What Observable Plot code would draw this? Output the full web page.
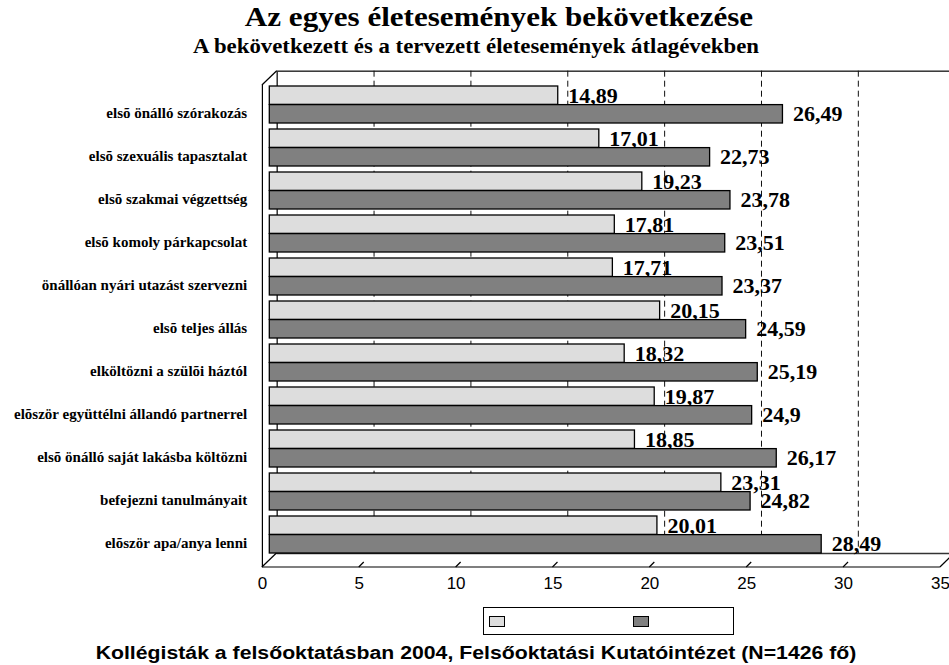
<!DOCTYPE html>
<html>
<head>
<meta charset="utf-8">
<script src="https://cdn.jsdelivr.net/npm/d3@7"></script>
<script src="https://cdn.jsdelivr.net/npm/@observablehq/plot@0.6"></script>
<style>
  body { margin: 0; background: #fff; }
  #wrap { position: relative; width: 949px; height: 665px; overflow: hidden; background: #fff; }
  #wrap svg { position: absolute; left: 0; top: 0; }
  .t { position: absolute; white-space: nowrap; line-height: 1; color: #000; transform-origin: center center; }
  .serif { font-family: "Liberation Serif", "Times New Roman", serif; font-weight: bold; }
  .sans { font-family: "Liberation Sans", Arial, sans-serif; font-weight: bold; }
  #legend { position: absolute; left: 483px; top: 607px; width: 249px; height: 26px; border: 1px solid #000; background: #fff; }
  .sw { position: absolute; top: 8px; width: 14px; height: 9px; border: 1px solid #000; }
</style>
</head>
<body>
<div id="wrap"></div>
<script>
// ---- data ----
const categories = [
  "elsõ önálló szórakozás",
  "elsõ szexuális tapasztalat",
  "elsõ szakmai végzettség",
  "elsõ komoly párkapcsolat",
  "önállóan nyári utazást szervezni",
  "elsõ teljes állás",
  "elköltözni a szülõi háztól",
  "elõször együttélni állandó partnerrel",
  "elsõ önálló saját lakásba költözni",
  "befejezni tanulmányait",
  "elõször apa/anya lenni"
];
const happened = [14.89, 17.01, 19.23, 17.81, 17.71, 20.15, 18.32, 19.87, 18.85, 23.31, 20.01];
const planned  = [26.49, 22.73, 23.78, 23.51, 23.37, 24.59, 25.19, 24.9, 26.17, 24.82, 28.49];
const xTicks = [0, 5, 10, 15, 20, 25, 30, 35];
const titleText = "Az egyes életesemények bekövetkezése";
const subtitleText = "A bekövetkezett és a tervezett életesemények átlagévekben";
const captionText = "Kollégisták a felsőoktatásban 2004, Felsőoktatási Kutatóintézet (N=1426 fő)";

// ---- layout ----
const W = 949, H = 600;
const T = 75.1, B = 563.3, pad = 0.15;
const n = categories.length;
const step = (B - T) / (n - pad + 2 * pad);
const bw = step * (1 - pad);
const half = 7.4;          // half depth, x
const serif = "Liberation Serif, Times New Roman, serif";
const sans = "Liberation Sans, Arial, sans-serif";

const rows = categories.map((c, i) => ({cat: c, done: happened[i], plan: planned[i]}));
const fmt = v => String(v).replace(".", ",");

const plot = Plot.plot({
  width: W, height: H,
  marginLeft: 269.3, marginRight: 1.7, marginTop: T, marginBottom: H - B,
  x: {domain: [0, 35], axis: null},
  y: {domain: categories, axis: null, padding: pad},
  style: {background: "transparent", overflow: "visible"},
  marks: [
    // back wall (top edge, left edge, floor back edge)
    Plot.frame({stroke: "#333", strokeWidth: 1.5, dx: half, dy: -4.4, insetBottom: 5.9}),
    // back-wall gridlines
    Plot.ruleX(xTicks.slice(1), {dx: half, dy: -4.4, insetBottom: 5.9, stroke: "#111", strokeWidth: 1, strokeDasharray: "6,4"}),
    // left wall front edge
    Plot.ruleX([0], {dx: -half, dy: 3.7, insetTop: 6.2, stroke: "#000", strokeWidth: 1.2}),
    // bars: happened (light) + labels, drawn below planned bars
    Plot.barX(rows, {x: "done", y: "cat", insetBottom: bw / 2, fill: "#dddddd", stroke: "#000", strokeWidth: 1.3}),
    Plot.text(rows, {x: "done", y: "cat", text: d => fmt(d.done), dx: 10, dy: -bw / 4, textAnchor: "start",
      fontSize: 22, fontWeight: "bold", fontFamily: serif, fill: "#000"}),
    Plot.barX(rows, {x: "plan", y: "cat", insetTop: bw / 2, fill: "#808080", stroke: "#000", strokeWidth: 1.3}),
    Plot.text(rows, {x: "plan", y: "cat", text: d => fmt(d.plan), dx: 10, dy: bw / 4, textAnchor: "start",
      fontSize: 22, fontWeight: "bold", fontFamily: serif, fill: "#000"}),
    // x tick labels on the front floor edge
    Plot.text(xTicks, {x: d => d, frameAnchor: "bottom", dx: -half, dy: 24.7, fontSize: 17, fontFamily: sans, fill: "#000"}),
    // category labels
    Plot.text(categories, {y: d => d, frameAnchor: "left", dx: -22.6, dy: 8, textAnchor: "end",
      fontSize: 15, fontWeight: "bold", fontFamily: serif, fill: "#000"})
  ]
});

// 3D floor / wall edges, positioned with the plot's x scale, inserted beneath the bars
const xs = plot.scale("x");
const fx = v => xs.apply(v) - half;
const yFrontFloor = B + 3.7, yFrontTop = T + 9.9, depthX = 2 * half, depthY = 14.3;
const g = d3.create("svg:g").attr("stroke", "#000").attr("stroke-width", 1.2).attr("fill", "none");
const seg = (x1, y1, x2, y2) => g.append("line").attr("x1", x1).attr("y1", y1).attr("x2", x2).attr("y2", y2);
seg(fx(0), yFrontFloor, fx(35), yFrontFloor);
seg(fx(0), yFrontFloor, fx(0) + depthX, yFrontFloor - depthY);
seg(fx(35), yFrontFloor, fx(35) + depthX, yFrontFloor - depthY);
seg(fx(0), yFrontTop, fx(0) + depthX, yFrontTop - depthY);
xTicks.slice(1, -1).forEach(v => seg(fx(v), yFrontFloor, fx(v) + 5, yFrontFloor - 5));
const firstBar = plot.querySelector('g[aria-label="bar"]');
plot.insertBefore(g.node(), firstBar);

const wrap = document.getElementById("wrap");
wrap.appendChild(plot);

// titles, legend, caption
function addText(txt, cls, cx, top, size, sx) {
  const d = document.createElement("div");
  d.className = "t " + cls;
  d.textContent = txt;
  d.style.fontSize = size + "px";
  d.style.top = top + "px";
  d.style.left = cx + "px";
  d.style.transform = `translateX(-50%) scaleX(${sx})`;
  wrap.appendChild(d);
}
addText(titleText, "serif", 498.5, 3, 28, 1.11);
addText(subtitleText, "serif", 476, 36, 20, 1.14);
addText(captionText, "sans", 476, 644, 18, 1.18);

const lg = document.createElement("div");
lg.id = "legend";
const s1 = document.createElement("div");
s1.className = "sw"; s1.style.left = "5px"; s1.style.background = "#dddddd";
const s2 = document.createElement("div");
s2.className = "sw"; s2.style.left = "149px"; s2.style.background = "#808080";
lg.appendChild(s1); lg.appendChild(s2);
wrap.appendChild(lg);
</script>
</body>
</html>
